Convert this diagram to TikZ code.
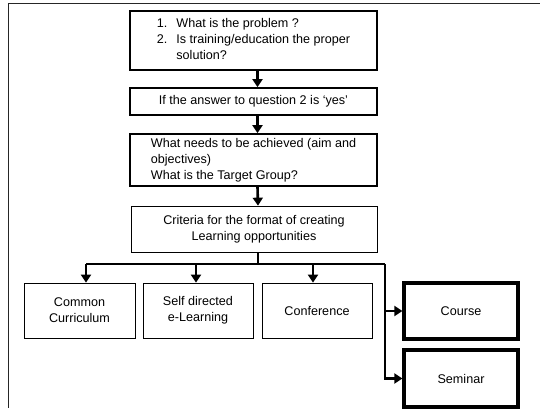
\documentclass[tikz,border=0pt]{standalone}
\usepackage{fontspec}
\setmainfont{Liberation Sans}
\usetikzlibrary{arrows.meta}
\begin{document}
\begin{tikzpicture}[x=1pt, y=-1pt,
  every node/.style={font=\fontsize{12.6}{16}\selectfont},
  qbox/.style={draw, line width=1.7pt, inner sep=0pt, align=left},
  fbox/.style={draw, line width=0.7pt, inner sep=0pt, align=center},
  hbox/.style={draw, line width=3.2pt, inner sep=0pt, align=center},
  arr/.style={line width=2.6pt, -{Triangle[width=10pt, length=8pt]}},
  bar/.style={line width=1.9pt},
  frame/.style={line width=1.3pt, black!85}]
  \useasboundingbox (0,0) rectangle (540,408);
  % outer frame, cut off at the right and at the bottom
  \draw[frame] (540,3.5) -- (8.5,3.5) -- (8.5,408);
  % questions
  \node[qbox, minimum width=247pt, minimum height=59pt] (q1) at (253.5,40.5)
    {\begin{tabular}{@{}l@{\hspace{9pt}}l@{}}1. & What is the problem ?\\ 2. & Is training/education the proper\\ & solution?\end{tabular}};
  \node[qbox, minimum width=247pt, minimum height=27pt, align=center] (q2) at (253.5,101.5)
    {If the answer to question 2 is `yes'};
  \node[qbox, minimum width=247pt, minimum height=52pt] (q3) at (253.5,160)
    {What needs to be achieved (aim and\\ objectives)\\ What is the Target Group?};
  \node[fbox, minimum width=246pt, minimum height=46pt] (crit) at (254,229)
    {Criteria for the format of creating\\ Learning opportunities};
  % formats
  \node[fbox, minimum width=111pt, minimum height=55pt] (common) at (79.5,310.5) {Common\\ Curriculum};
  \node[fbox, minimum width=110pt, minimum height=55pt] (selfdir) at (198,310.5) {Self directed\\ e-Learning};
  \node[fbox, minimum width=110pt, minimum height=55pt] (conf) at (317,310.5) {Conference};
  \node[hbox, minimum width=114pt, minimum height=56pt] (course) at (461,311) {Course};
  \node[hbox, minimum width=114pt, minimum height=57pt] (seminar) at (461,378.5) {Seminar};
  % connectors
  \draw[arr] ([xshift=4pt]q1.south) -- ([xshift=4pt]q2.north);
  \draw[arr] ([xshift=4pt]q2.south) -- ([xshift=4pt]q3.north);
  \draw[arr] ([xshift=4pt]q3.south) -- ([xshift=4pt]crit.north);
  \coordinate (jc) at (258,264);
  \coordinate (ja) at (86,264);
  \coordinate (jb) at (196,264);
  \coordinate (jd) at (313,264);
  \coordinate (je) at (385,264);
  \draw[bar] ([xshift=4pt]crit.south) -- (jc);
  \draw[bar] (ja) -- (je);
  \draw[arr] (ja) -- (ja |- common.north);
  \draw[arr] (jb) -- (jb |- selfdir.north);
  \draw[arr] (jd) -- (jd |- conf.north);
  \draw[arr] (je) |- (course.west);
  \draw[arr] (je) |- (seminar.west);
\end{tikzpicture}
\end{document}
